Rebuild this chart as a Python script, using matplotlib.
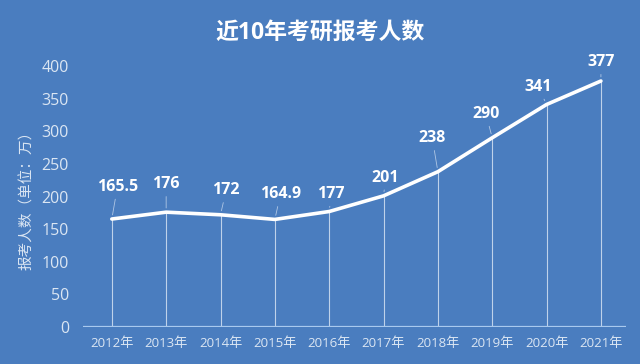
import matplotlib
matplotlib.use("Agg")
import matplotlib.pyplot as plt

plt.rcParams['font.family'] = ['Open Sans', 'Noto Sans CJK SC', 'DejaVu Sans']

years = ['2012年', '2013年', '2014年', '2015年', '2016年',
         '2017年', '2018年', '2019年', '2020年', '2021年']
applicants = [165.5, 176, 172, 164.9, 177, 201, 238, 290, 341, 377]
value_labels = ['165.5', '176', '172', '164.9', '177', '201', '238', '290', '341', '377']
y_ticks = [0, 50, 100, 150, 200, 250, 300, 350, 400]

# label offsets (points, to label centre) as placed in the original
label_offsets = [(4, 23), (0, 20), (4, 17.5), (4, 18), (1.5, 12.5),
                 (1.5, 13), (-4, 24), (-4.5, 17), (-6, 12.5), (0, 13.5)]

bg = '#4a7dbf'
light = '#dbe6f3'

fig = plt.figure(figsize=(6.4, 3.64), dpi=100, facecolor=bg)
ax = fig.add_axes([0.1297, 0.1016, 0.8483, 0.7171], facecolor=bg)

x = list(range(len(years)))

# drop lines from each point to the baseline
ax.vlines(x, 0, applicants, color='#d5e2f2', lw=0.8, alpha=0.85, zorder=2)
ax.plot(x, applicants, color='white', lw=2.6, solid_capstyle='round',
        solid_joinstyle='round', zorder=3)
ax.axhline(0, color='#a9c9ee', lw=1.6, zorder=2)

for xi, v, lab, off in zip(x, applicants, value_labels, label_offsets):
    ax.annotate(lab, (xi, v), xytext=off, textcoords='offset points',
                ha='center', va='center', color='white', fontsize=11.5,
                fontweight='bold',
                arrowprops=dict(arrowstyle='-', color='#c9d9ee', lw=0.6,
                                shrinkA=1, shrinkB=3, alpha=0.8))

ax.set_xlim(-0.53, 9.46)
ax.set_ylim(0, 400)
ax.set_yticks(y_ticks)
ax.set_xticks(x)
ax.set_xticklabels(years)
ax.tick_params(axis='y', length=0, pad=10, labelsize=11.5, labelcolor=light)
ax.tick_params(axis='x', length=0, pad=7, labelsize=9.5, labelcolor=light)
for s in ax.spines.values():
    s.set_visible(False)

ax.set_ylabel('报考人数（单位：万）', color=light, fontsize=10.5, labelpad=5)

fig.text(0.5, 0.91, '近10年考研报考人数', ha='center', va='center',
         color='white', fontsize=16.5, fontweight='bold')

fig.savefig('out.png', dpi=100, facecolor=bg)
